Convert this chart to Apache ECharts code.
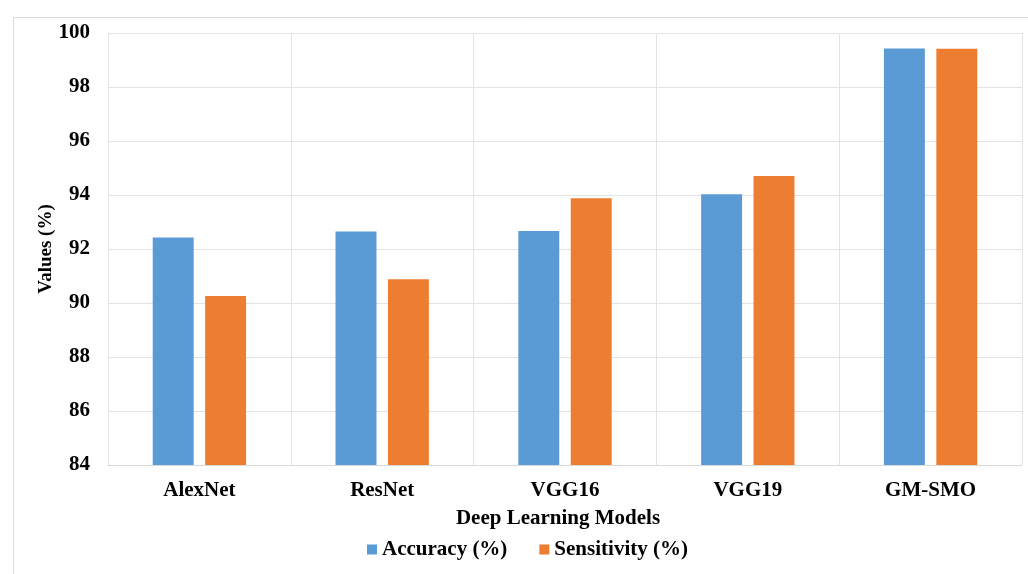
<!DOCTYPE html>
<html>
<head>
<meta charset="utf-8">
<script src="https://cdn.jsdelivr.net/npm/echarts@6/dist/echarts.min.js"></script>
<style>
html,body{margin:0;padding:0;background:#fff;}
#c{width:1028px;height:574px;}
</style>
</head>
<body>
<div id="c"></div>
<script>
const categories = ['AlexNet', 'ResNet', 'VGG16', 'VGG19', 'GM-SMO'];
const accuracy = [92.43, 92.65, 92.67, 94.03, 99.43];
const sensitivity = [90.26, 90.88, 93.88, 94.70, 99.42];
const seriesNames = ['Accuracy (%)', 'Sensitivity (%)'];

const font = '"Liberation Serif", "Times New Roman", serif';
const chart = echarts.init(document.getElementById('c'), null, {renderer: 'canvas'});
chart.setOption({
  animation: false,
  backgroundColor: '#fff',
  graphic: [{
    type: 'rect', left: 11, top: 15, z: -1,
    shape: {width: 1100, height: 700},
    style: {fill: 'none', stroke: '#d9d9d9', lineWidth: 1}
  }],
  grid: {left: 108, top: 33, right: 6, bottom: 109, containLabel: false},
  legend: {
    data: seriesNames,
    bottom: 9,
    left: 362,
    itemWidth: 10, itemHeight: 10, itemGap: 32,
    icon: 'rect',
    textStyle: {fontFamily: font, fontWeight: 'bold', fontSize: 21, color: '#000'}
  },
  xAxis: {
    type: 'category',
    data: categories,
    name: 'Deep Learning Models',
    nameLocation: 'middle',
    nameGap: 43,
    nameMoveOverlap: false,
    nameTextStyle: {fontFamily: font, fontWeight: 'bold', fontSize: 21, color: '#000', padding: [0, 14, 0, 0]},
    axisLine: {lineStyle: {color: '#d9d9d9'}},
    axisTick: {show: false},
    axisLabel: {fontFamily: font, fontWeight: 'bold', fontSize: 21, color: '#000', margin: 15},
    splitLine: {show: true, lineStyle: {color: '#e3e3e3'}}
  },
  yAxis: {
    type: 'value',
    min: 84, max: 100, interval: 2,
    name: 'Values (%)',
    nameLocation: 'middle',
    nameGap: 52,
    nameMoveOverlap: false,
    nameTextStyle: {fontFamily: font, fontWeight: 'bold', fontSize: 19, color: '#000'},
    axisLine: {show: false},
    axisTick: {show: false},
    axisLabel: {fontFamily: font, fontWeight: 'bold', fontSize: 21, color: '#000', margin: 18},
    splitLine: {lineStyle: {color: '#e3e3e3'}}
  },
  series: [
    {name: seriesNames[0], type: 'bar', data: accuracy, barWidth: '22.4%', barGap: '28%',
     itemStyle: {color: '#5B9BD5'}},
    {name: seriesNames[1], type: 'bar', data: sensitivity, barWidth: '22.4%', barGap: '28%',
     itemStyle: {color: '#ED7D31'}}
  ]
});
</script>
</body>
</html>
